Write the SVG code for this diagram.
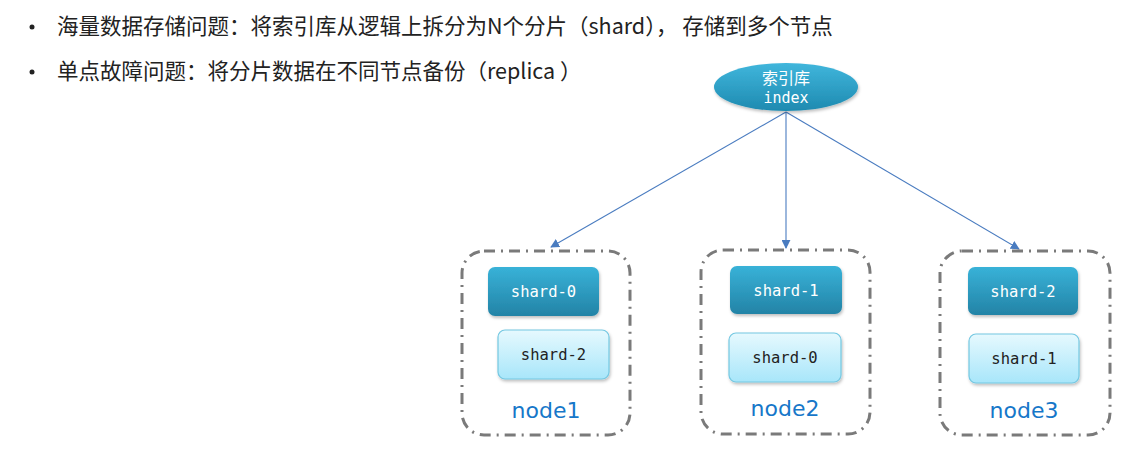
<svg xmlns="http://www.w3.org/2000/svg" width="1137" height="457" viewBox="0 0 1137 457">
<style>
.bul{font-family:"Noto Sans CJK SC","Liberation Sans",sans-serif;font-size:21.5px;fill:#222}
.node{fill:none;stroke:#7a7a7a;stroke-width:3;stroke-dasharray:11 6 2 6}
.prim{fill:url(#gDark);filter:url(#sh)}
.rep{fill:url(#gLight);stroke:#74c8e2;stroke-width:1.2;filter:url(#sh)}
.st{font-family:"DejaVu Sans Mono",monospace;font-size:15.5px;text-anchor:middle}
.lbl{font-family:"DejaVu Sans",sans-serif;font-size:22px;fill:#1677c9;text-anchor:middle}
.conn{stroke:#4a7cc0;stroke-width:1.1;fill:none;marker-end:url(#ar)}
</style>
<defs>
<linearGradient id="gDark" x1="0" y1="0" x2="0" y2="1"><stop offset="0" stop-color="#38b2d8"/><stop offset="1" stop-color="#2383a6"/></linearGradient>
<linearGradient id="gLight" x1="0" y1="0" x2="0" y2="1"><stop offset="0" stop-color="#e6f9fe"/><stop offset="1" stop-color="#a8e6fa"/></linearGradient>
<linearGradient id="gEl" x1="0" y1="0" x2="0" y2="1"><stop offset="0" stop-color="#40b6dc"/><stop offset="1" stop-color="#1e8ab0"/></linearGradient>
<filter id="sh" x="-10%" y="-10%" width="130%" height="140%"><feDropShadow dx="1" dy="2" stdDeviation="1.5" flood-color="#000" flood-opacity="0.25"/></filter>
<marker id="ar" viewBox="0 0 10 10" refX="9" refY="5" markerWidth="9" markerHeight="9" markerUnits="userSpaceOnUse" orient="auto"><path d="M0,0 L10,5 L0,10 z" fill="#4a7cc0"/></marker>
</defs>
<g id="text">
<circle cx="32" cy="27" r="2.5" fill="#222"/>
<text class="bul" x="57" y="34">海量数据存储问题：将索引库从逻辑上拆分为N个分片（shard）， 存储到多个节点</text>
<circle cx="32" cy="72" r="2.5" fill="#222"/>
<text class="bul" x="57" y="79">单点故障问题：将分片数据在不同节点备份（replica ）</text>
</g>
<g id="connectors">
<line class="conn" x1="786" y1="112" x2="551" y2="247"/>
<line class="conn" x1="786" y1="112" x2="786" y2="248"/>
<line class="conn" x1="786" y1="112" x2="1019" y2="249"/>
</g>
<g id="index">
<ellipse cx="786" cy="87" rx="72" ry="24" fill="url(#gEl)" filter="url(#sh)"/>
<text x="786" y="84" font-family="Noto Sans CJK SC,sans-serif" font-size="16" fill="#fff" text-anchor="middle">索引库</text>
<text x="786" y="103" font-family="DejaVu Sans Mono,monospace" font-size="15" fill="#fff" text-anchor="middle">index</text>
</g>
<g id="node1">
<rect class="node" x="462" y="251" width="168" height="184" rx="22"/>
<rect class="prim" x="488" y="267" width="111" height="49" rx="7"/>
<text class="st" x="543.5" y="297" fill="#fff">shard-0</text>
<rect class="rep" x="498" y="330" width="111" height="49" rx="7"/>
<text class="st" x="553.5" y="360" fill="#222">shard-2</text>
<text class="lbl" x="546" y="418">node1</text>
</g>
<g id="node2">
<rect class="node" x="701" y="250" width="169" height="184" rx="22"/>
<rect class="prim" x="730" y="266" width="112" height="48" rx="7"/>
<text class="st" x="786" y="296" fill="#fff">shard-1</text>
<rect class="rep" x="729" y="333" width="112" height="49" rx="7"/>
<text class="st" x="785" y="363" fill="#222">shard-0</text>
<text class="lbl" x="785" y="416">node2</text>
</g>
<g id="node3">
<rect class="node" x="940" y="251" width="170" height="184" rx="22"/>
<rect class="prim" x="968" y="267" width="110" height="48" rx="7"/>
<text class="st" x="1023" y="297" fill="#fff">shard-2</text>
<rect class="rep" x="969" y="334" width="110" height="49" rx="7"/>
<text class="st" x="1024" y="364" fill="#222">shard-1</text>
<text class="lbl" x="1024" y="418">node3</text>
</g>
</svg>
